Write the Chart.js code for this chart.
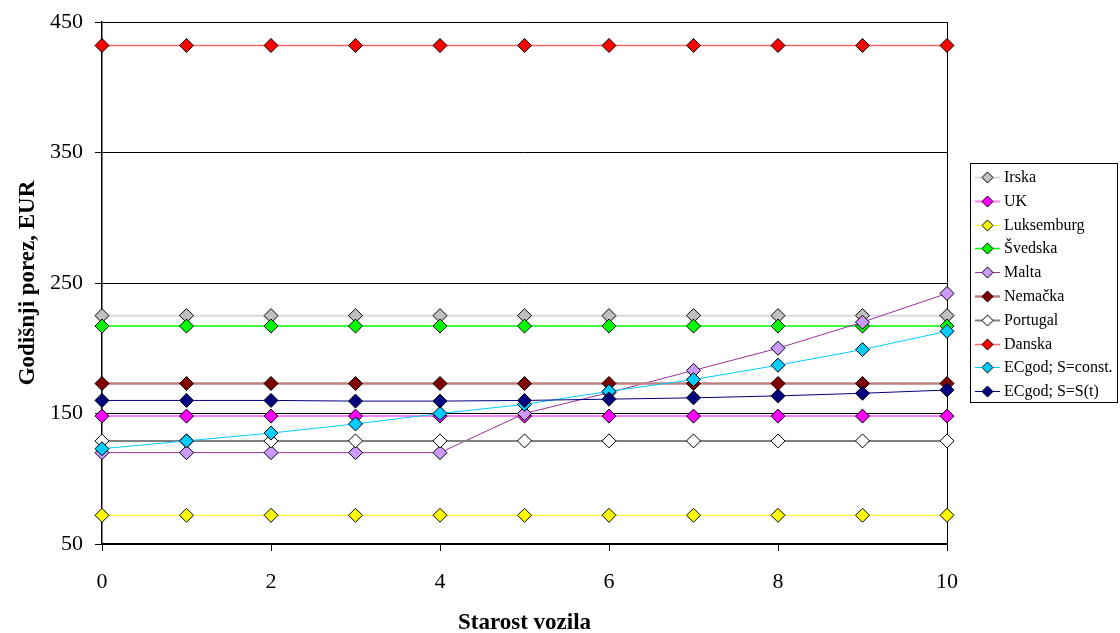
<!DOCTYPE html>
<html>
<head>
<meta charset="utf-8">
<script src="https://cdn.jsdelivr.net/npm/chart.js@4/dist/chart.umd.min.js"></script>
<style>
  html, body { margin: 0; padding: 0; background: #fff; }
  #wrap { width: 1120px; height: 633px; }
</style>
</head>
<body>
<div id="wrap"><canvas id="c" width="1120" height="633"></canvas></div>
<script>
// Starost vozila (godine)
const ages = [0, 1, 2, 3, 4, 5, 6, 7, 8, 9, 10];

// Godišnji porez po zemlji, EUR
const irska      = [225, 225, 225, 225, 225, 225, 225, 225, 225, 225, 225];
const uk         = [148, 148, 148, 148, 148, 148, 148, 148, 148, 148, 148];
const luksemburg = [72, 72, 72, 72, 72, 72, 72, 72, 72, 72, 72];
const svedska    = [217, 217, 217, 217, 217, 217, 217, 217, 217, 217, 217];
const malta      = [120, 120, 120, 120, 120, 150, 166, 183, 200, 220, 242];
const nemacka    = [173, 173, 173, 173, 173, 173, 173, 173, 173, 173, 173];
const portugal   = [129, 129, 129, 129, 129, 129, 129, 129, 129, 129, 129];
const danska     = [432, 432, 432, 432, 432, 432, 432, 432, 432, 432, 432];
const ecConst    = [123, 129, 135, 142, 150, 157, 167, 176, 187, 199, 213];
const ecVar      = [160, 160, 160, 159.5, 159.5, 160, 161, 162, 163.5, 165.5, 168];

const yTicks = [50, 150, 250, 350, 450];

const FONT = "'Liberation Serif', 'Times New Roman', serif";

const seriesDefs = [
  { label: 'Irska',            data: irska,      line: '#d9d9d9', fill: '#c0c0c0', w: 2 },
  { label: 'UK',               data: uk,         line: '#ff80ff', fill: '#ff00ff', w: 2 },
  { label: 'Luksemburg',       data: luksemburg, line: '#ffff00', fill: '#ffff00', w: 1 },
  { label: 'Švedska',          data: svedska,    line: '#00ff00', fill: '#00ff00', w: 1.5 },
  { label: 'Malta',            data: malta,      line: '#993399', fill: '#cc99ff', w: 1 },
  { label: 'Nemačka',          data: nemacka,    line: '#c08080', fill: '#800000', w: 2.5 },
  { label: 'Portugal',         data: portugal,   line: '#808080', fill: '#ffffff', w: 2 },
  { label: 'Danska',           data: danska,     line: '#ff6666', fill: '#ff0000', w: 1.5 },
  { label: 'ECgod; S=const.',  data: ecConst,    line: '#00ccff', fill: '#00ccff', w: 1 },
  { label: 'ECgod; S=S(t)',    data: ecVar,      line: '#000080', fill: '#000080', w: 1 }
];

const datasets = seriesDefs.map((s, i) => ({
  label: s.label,
  data: ages.map((a, k) => ({ x: a, y: s.data[k] })),
  borderColor: s.line,
  borderWidth: s.w,
  pointStyle: 'rectRot',
  pointRadius: 7,
  pointHoverRadius: 7,
  pointBackgroundColor: s.fill,
  pointBorderColor: '#000',
  pointBorderWidth: 1,
  tension: 0,
  fill: false,
  clip: false,
  order: seriesDefs.length - i
}));

// Boxed legend on the right, drawn with line + diamond swatches
const boxLegend = {
  id: 'boxLegend',
  afterDraw(chart) {
    const ctx = chart.ctx;
    const left = 970, top = 163, right = 1117, bottom = 402;
    const firstY = 177, step = 23.8;
    ctx.save();
    ctx.fillStyle = '#fff';
    ctx.fillRect(left, top, right - left, bottom - top);
    ctx.strokeStyle = '#000';
    ctx.lineWidth = 1;
    ctx.strokeRect(left + 0.5, top + 0.5, right - left, bottom - top);
    ctx.font = "16px " + FONT;
    ctx.textBaseline = 'middle';
    ctx.textAlign = 'left';
    seriesDefs.forEach((s, i) => {
      const y = Math.round(firstY + i * step) + 0.5;
      ctx.strokeStyle = s.line;
      ctx.lineWidth = Math.max(1, s.w);
      ctx.beginPath();
      ctx.moveTo(975, y);
      ctx.lineTo(1000, y);
      ctx.stroke();
      const cx = 987.5, r = 5.5;
      ctx.beginPath();
      ctx.moveTo(cx, y - r);
      ctx.lineTo(cx + r, y);
      ctx.lineTo(cx, y + r);
      ctx.lineTo(cx - r, y);
      ctx.closePath();
      ctx.fillStyle = s.fill;
      ctx.fill();
      ctx.strokeStyle = '#000';
      ctx.lineWidth = 1;
      ctx.stroke();
      ctx.fillStyle = '#000';
      ctx.fillText(s.label, 1004, y);
    });
    ctx.restore();
  }
};

new Chart(document.getElementById('c'), {
  type: 'line',
  data: { datasets },
  options: {
    responsive: false,
    animation: false,
    events: [],
    layout: { padding: { top: 22, right: 173, left: 0, bottom: 0 } },
    plugins: { legend: { display: false }, tooltip: { enabled: false } },
    scales: {
      x: {
        type: 'linear',
        min: 0, max: 10,
        ticks: {
          stepSize: 2,
          color: '#000',
          font: { family: FONT, size: 22 },
          padding: 18,
          maxRotation: 0
        },
        grid: {
          color: c => (c.tick && c.tick.value === 10) ? '#000' : 'rgba(0,0,0,0)',
          lineWidth: 1,
          tickColor: '#000',
          tickLength: 7,
          drawOnChartArea: true
        },
        border: { color: '#000', width: 1.5 },
        title: {
          display: true,
          text: 'Starost vozila',
          color: '#000',
          font: { family: FONT, size: 23, weight: 'bold', lineHeight: 1 },
          padding: { top: -2, bottom: -2 }
        },
        afterFit: s => { s.height = 89; s.paddingLeft = 0; s.paddingRight = 0; }
      },
      y: {
        type: 'linear',
        min: 50, max: 450,
        afterBuildTicks: s => { s.ticks = yTicks.map(v => ({ value: v })); },
        ticks: {
          color: '#000',
          font: { family: FONT, size: 22 },
          padding: 12
        },
        grid: {
          color: '#000',
          lineWidth: 1,
          tickColor: '#000',
          tickLength: 7
        },
        border: { color: '#000', width: 1.5 },
        title: {
          display: true,
          text: 'Godišnji porez, EUR',
          color: '#000',
          font: { family: FONT, size: 23, weight: 'bold', lineHeight: 1 },
          padding: { top: 17, bottom: 0 }
        },
        afterFit: s => { s.width = 102; s.paddingTop = 0; s.paddingBottom = 0; }
      }
    }
  },
  plugins: [boxLegend]
});
</script>
</body>
</html>
